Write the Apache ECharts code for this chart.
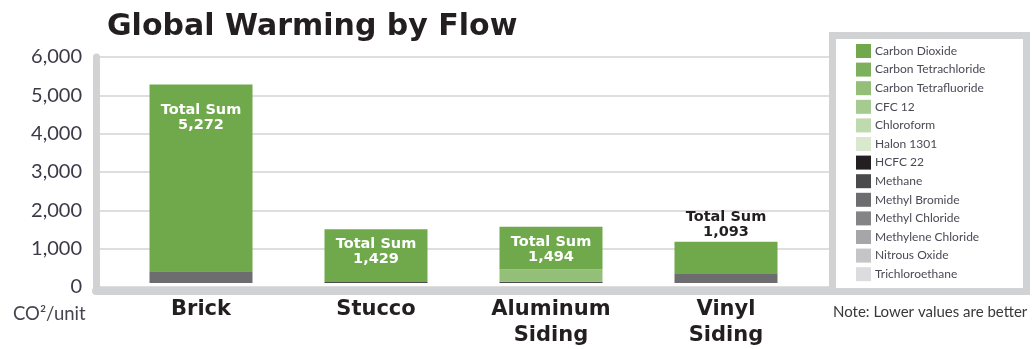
<!DOCTYPE html>
<html>
<head>
<meta charset="utf-8">
<script src="https://cdn.jsdelivr.net/npm/echarts@6/dist/echarts.min.js"></script>
<style>
  html, body { margin: 0; padding: 0; background: #ffffff; }
  #chart { width: 1033px; height: 349px; }
</style>
</head>
<body>
<div id="chart"></div>
<script>
// Siding materials compared
const categories = ['Brick', 'Stucco', 'Aluminum\nSiding', 'Vinyl\nSiding'];

// Emission flows, CO2-equivalent per unit, one value per material
const carbonDioxide        = [4962, 1404, 1134, 853];
const carbonTetrachloride  = [0, 0, 0, 0];
const carbonTetrafluoride  = [0, 0, 330, 0];
const cfc12                = [0, 0, 0, 0];
const chloroform           = [0, 0, 0, 0];
const halon1301            = [0, 0, 0, 0];
const hcfc22               = [0, 0, 0, 0];
const methane              = [0, 25, 30, 0];
const methylBromide        = [310, 0, 0, 240];
const methylChloride       = [0, 0, 0, 0];
const methyleneChloride    = [0, 0, 0, 0];
const nitrousOxide         = [0, 0, 0, 0];
const trichloroethane      = [0, 0, 0, 0];

// Stated totals per material
const totals = [5272, 1429, 1494, 1093];

// Value axis ticks
const yTicks = [0, 1000, 2000, 3000, 4000, 5000, 6000];

const flows = [
  { name: 'Carbon Dioxide',        data: carbonDioxide,       color: '#70a94c' },
  { name: 'Carbon Tetrachloride',  data: carbonTetrachloride, color: '#7db05d' },
  { name: 'Carbon Tetrafluoride',  data: carbonTetrafluoride, color: '#93bf78' },
  { name: 'CFC 12',                data: cfc12,               color: '#a6cb90' },
  { name: 'Chloroform',            data: chloroform,          color: '#bfdaae' },
  { name: 'Halon 1301',            data: halon1301,           color: '#d9e9cd' },
  { name: 'HCFC 22',               data: hcfc22,              color: '#231f20' },
  { name: 'Methane',               data: methane,             color: '#4a4a4c' },
  { name: 'Methyl Bromide',        data: methylBromide,       color: '#6d6d70' },
  { name: 'Methyl Chloride',       data: methylChloride,      color: '#848487' },
  { name: 'Methylene Chloride',    data: methyleneChloride,   color: '#a6a6a9' },
  { name: 'Nitrous Oxide',         data: nitrousOxide,        color: '#c5c5c7' },
  { name: 'Trichloroethane',       data: trichloroethane,     color: '#dcdcde' }
];

// Stacking order from the baseline up: grays first, then greens
const stackOrder = [
  'Methane', 'HCFC 22', 'Methyl Bromide', 'Methyl Chloride', 'Methylene Chloride',
  'Nitrous Oxide', 'Trichloroethane', 'Carbon Tetrafluoride', 'CFC 12',
  'Chloroform', 'Halon 1301', 'Carbon Tetrachloride', 'Carbon Dioxide'
];

const AXIS_GRAY = '#d1d2d4';
const yMax = yTicks[yTicks.length - 1];
const yStep = yTicks[1] - yTicks[0];

const chart = echarts.init(document.getElementById('chart'), null, { renderer: 'canvas' });

const barSeries = stackOrder.map(function (n) {
  const f = flows.find(function (x) { return x.name === n; });
  return {
    name: f.name,
    type: 'bar',
    xAxisIndex: 1,
    yAxisIndex: 1,
    stack: 'flow',
    barWidth: 103,
    itemStyle: { color: f.color },
    data: f.data,
    z: 3
  };
});

// Totals drawn as an invisible overlay bar carrying the labels
const totalSeries = {
  name: 'Total',
  type: 'bar',
  xAxisIndex: 1,
  yAxisIndex: 1,
  barWidth: 103,
  barGap: '-100%',
  itemStyle: { color: 'rgba(0,0,0,0)' },
  silent: true,
  z: 4,
  data: totals.map(function (v, i) {
    const inside = i < 3;
    return {
      value: v,
      label: {
        show: true,
        position: inside ? 'insideTop' : 'top',
        distance: inside ? (i === 0 ? 18 : 8) : 2,
        color: inside ? '#ffffff' : '#231f20',
        fontFamily: 'DejaVu Sans',
        fontWeight: 'bold',
        fontSize: 14.5,
        lineHeight: 15,
        formatter: function (p) {
          return 'Total Sum\n' + p.value.toLocaleString('en-US');
        }
      }
    };
  })
};

chart.setOption({
  animation: false,
  backgroundColor: '#ffffff',
  textStyle: { fontFamily: 'Lato' },
  grid: [
    { left: 96, right: 204, top: 57, bottom: 62 },
    { left: 113.5, right: 219.5, top: 57, bottom: 62 }
  ],
  xAxis: [
    {
      type: 'value', gridIndex: 0, min: 0, max: 1,
      axisLine: { show: true, onZero: false, lineStyle: { color: AXIS_GRAY, width: 8 } },
      offset: 4,
      axisTick: { show: false }, axisLabel: { show: false }, splitLine: { show: false }
    },
    {
      type: 'category', gridIndex: 1, data: categories,
      axisLine: { show: false }, axisTick: { show: false },
      axisLabel: {
        margin: 14, color: '#231f20', fontFamily: 'DejaVu Sans', fontWeight: 'bold',
        fontSize: 21, lineHeight: 26
      }
    }
  ],
  yAxis: [
    {
      type: 'value', gridIndex: 0, min: 0, max: yMax, interval: yStep,
      axisLine: { show: true, lineStyle: { color: AXIS_GRAY, width: 7 } },
      axisTick: { show: false },
      splitLine: { show: true, lineStyle: { color: '#dedede', width: 2 } },
      axisLabel: {
        margin: 14, color: '#3d3a48', fontFamily: 'Lato', fontSize: 20,
        formatter: function (v) { return v.toLocaleString('en-US'); }
      }
    },
    {
      type: 'value', gridIndex: 1, min: 0, max: yMax, interval: yStep,
      show: false
    }
  ],
  legend: {
    orient: 'vertical',
    left: 851,
    top: 39,
    itemWidth: 15,
    itemHeight: 14,
    itemGap: 4.6,
    icon: 'rect',
    selectedMode: false,
    data: flows.map(function (f) { return f.name; }),
    textStyle: { color: '#4a4a55', fontFamily: 'Lato', fontSize: 12, padding: [0, 0, 0, -1] }
  },
  color: flows.map(function (f) { return f.color; }),
  graphic: [
    {
      type: 'rect', z: 0,
      shape: { x: 832.5, y: 35.5, width: 194, height: 256 },
      style: { fill: '#ffffff', stroke: AXIS_GRAY, lineWidth: 7 }
    },
    {
      type: 'text', left: 107, top: 12, z: 10,
      style: {
        text: 'Global Warming by Flow', fill: '#231f20',
        font: 'bold 30px "DejaVu Sans"'
      }
    },
    {
      type: 'text', left: 13, top: 305, z: 10,
      style: { text: 'CO²/unit', fill: '#45434f', font: '18.5px Lato' }
    },
    {
      type: 'text', left: 833, top: 305, z: 10,
      style: { text: 'Note: Lower values are better', fill: '#3a3838', font: '15px Lato' }
    }
  ],
  series: barSeries.concat([totalSeries])
});
</script>
</body>
</html>
